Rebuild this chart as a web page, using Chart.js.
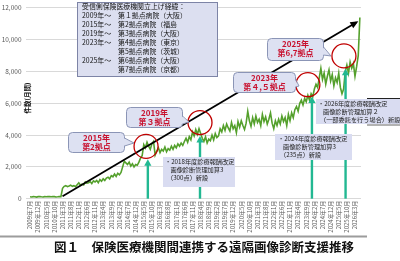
<!DOCTYPE html>
<html><head><meta charset="utf-8">
<script src="https://cdn.jsdelivr.net/npm/chart.js@4"></script>
<style>
html,body{margin:0;padding:0;background:#fff;}
#wrap{position:relative;width:400px;height:261px;overflow:hidden;font-family:"Noto Sans CJK JP",sans-serif;}
#c{position:absolute;left:0;top:0;}
#ov{position:absolute;left:0;top:0;pointer-events:none;}
</style></head><body>
<div id="wrap">
<canvas id="c" width="400" height="240"></canvas>
<svg id="ov" width="400" height="261" xmlns="http://www.w3.org/2000/svg" font-family="Noto Sans CJK JP, sans-serif"></svg>
</div>
<script>
// ---- data ----
const tickLabels = ["2009年7月","2009年12月","2010年5月","2010年10月","2011年3月","2011年8月","2012年1月","2012年6月","2012年11月","2013年4月","2013年9月","2014年2月","2014年7月","2014年12月","2015年5月","2015年10月","2016年3月","2016年8月","2017年1月","2017年6月","2017年11月","2018年4月","2018年9月","2019年2月","2019年7月","2019年12月","2020年5月","2020年10月","2021年3月","2021年8月","2022年1月","2022年6月","2022年11月","2023年4月","2023年9月","2024年2月","2024年7月","2024年12月","2025年5月","2025年10月","2026年3月"];
// monthly counts from 2009-07
const monthlyCases = [
 120,110,130,120,100,130,140,120,110,130,120,140,
 130,120,140,130,110,120,140,130,
 650,780,820,760,
 800,850,780,820,760,880,1000,850,920,870,1050,980,
 1000,1080,950,1120,1050,1150,1000,1200,1100,1250,1150,1300,
 1350,1250,1450,1380,1550,1400,1600,1500,1650,2000,2350,
 2250,2150,2300,2050,2200,2000,2150,2100,2300,2550,2700,
 3400,3200,3550,3300,3100,3450,3600,2750,3000,3200,2900,
 3100,3000,3250,2950,3150,3050,3300,3100,3350,3200,3450,3300,
 3500,3350,3600,3800,3550,3900,3700,4200,3950,4350,4050,4400,
 4100,3800,3600,3900,3500,3750,3650,4000,3700,4100,3850,3950,
 4400,4200,4600,4300,4700,4450,4250,4800,4400,4600,4150,4850,
 4500,4900,4600,4350,4750,5500,4900,4550,5100,4700,5200,4800,
 5000,4600,5300,4850,5150,4700,5000,5400,4750,4400,4900,4600,
 5000,4700,5200,4850,5100,4600,5300,4900,5400,5100,5600,5800,
 5500,6000,6200,5900,6300,6100,6500,6200,6600,6400,6900,7200,
 7000,7600,8200,7500,7900,7200,7700,8100,7400,7800,7100,7600,
 7300,7900,7000,6600,6900,8000,8400,7900,8600,8200,8500,7700,
 8300,9000,11400
];
// trend arrow (month index, value)
const trendIdx = [20, 201];
const trendVal = [150, 11100];
// milestone circles (month index, value)
const circleIdx = [71.4, 104.6, 171, 193.2];
const circleVal = [3290, 4790, 7170, 8980];
// revision arrows (month index, top value)
const revIdx = [72.5, 104.6, 173.5, 194.2];
const revTop = [2480, 3950, 6420, 8170];
const yTicks = [0,2000,4000,6000,8000,10000,12000];

const FONT = '"Noto Sans CJK JP", sans-serif';
const teal = '#22b892';

const overlayPlugin = {
  id:'overlay',
  afterDatasetsDraw(chart){
    const ctx = chart.ctx, xs = chart.scales.x, ys = chart.scales.y;
    ctx.save();
    // teal arrows
    ctx.strokeStyle = teal; ctx.fillStyle = teal; ctx.lineWidth = 2.4;
    revIdx.forEach((ix,k)=>{
      const px = xs.getPixelForValue(ix), top = ys.getPixelForValue(revTop[k]), bot = ys.getPixelForValue(0);
      ctx.beginPath(); ctx.moveTo(px,bot); ctx.lineTo(px,top+5); ctx.stroke();
      ctx.beginPath(); ctx.moveTo(px,top); ctx.lineTo(px-3.6,top+6.5); ctx.lineTo(px+3.6,top+6.5); ctx.closePath(); ctx.fill();
    });
    // trend arrowhead
    const x0 = xs.getPixelForValue(trendIdx[0]), y0 = ys.getPixelForValue(trendVal[0]);
    const x1 = xs.getPixelForValue(trendIdx[1]), y1 = ys.getPixelForValue(trendVal[1]);
    const a = Math.atan2(y1-y0, x1-x0);
    ctx.fillStyle = '#000';
    ctx.beginPath();
    ctx.moveTo(x1+2*Math.cos(a), y1+2*Math.sin(a));
    ctx.lineTo(x1-6*Math.cos(a)+3.5*Math.sin(a), y1-6*Math.sin(a)-3.5*Math.cos(a));
    ctx.lineTo(x1-6*Math.cos(a)-3.5*Math.sin(a), y1-6*Math.sin(a)+3.5*Math.cos(a));
    ctx.closePath(); ctx.fill();
    // red circles
    ctx.strokeStyle = '#c00000'; ctx.lineWidth = 1.3;
    circleIdx.forEach((ix,k)=>{
      ctx.beginPath();
      ctx.arc(xs.getPixelForValue(ix), ys.getPixelForValue(circleVal[k]), 12, 0, Math.PI*2);
      ctx.stroke();
    });
    ctx.restore();
  }
};

new Chart(document.getElementById('c'), {
  type:'line',
  data:{
    datasets:[
      { data: trendIdx.map((v,i)=>({x:v,y:trendVal[i]})), borderColor:'#000', borderWidth:1.8, pointRadius:0, order:0 },
      { data: monthlyCases.map((v,i)=>({x:i,y:v})), borderColor:'#54a02c', borderWidth:1.6, pointRadius:0, tension:0, order:1 }
    ]
  },
  options:{
    responsive:false, animation:false, devicePixelRatio:1,
    layout:{padding:{left:0,right:39,top:7,bottom:0}},
    plugins:{legend:{display:false}, tooltip:{enabled:false}},
    scales:{
      x:{ type:'linear', min:-2.8, max:203.7,
          grid:{display:false, drawTicks:false}, border:{display:false},
          afterBuildTicks(s){ s.ticks = tickLabels.map((_,i)=>({value:i*5})); },
          ticks:{ autoSkip:false, maxRotation:90, minRotation:90, padding:2, color:'#595959',
                  font:{size:6, family:FONT}, callback:(v,i)=>tickLabels[i] },
          afterFit(s){ s.height = 41.3; } },
      y:{ min:0, max:12000,
          afterBuildTicks(s){ s.ticks = yTicks.map(v=>({value:v})); },
          grid:{color:'#d9d9d9', drawTicks:false}, border:{display:false},
          ticks:{ padding:4, color:'#595959', font:{size:6.5, family:FONT},
                  callback:v=>v.toLocaleString('en-US') },
          afterFit(s){ s.width = 25.5; } }
    }
  },
  plugins:[overlayPlugin]
});

// ---- annotations (SVG, real text) ----
const NS='http://www.w3.org/2000/svg';
const svg=document.getElementById('ov');
function el(tag, attrs, text){ const e=document.createElementNS(NS,tag); for(const k in attrs) e.setAttribute(k,attrs[k]); if(text!==undefined) e.textContent=text; svg.appendChild(e); return e; }

// info box
el('rect',{x:77.5,y:2.5,width:140,height:74,fill:'#dcdff0',stroke:'#7d84a6','stroke-width':1});
const infoLeft=['受信側保険医療機関立上げ経緯：','2009年～','2015年～','2019年～','2023年～','','2025年～',''];
const infoRight=['','第１拠点病院（大阪）','第2拠点病院（福島','第3拠点病院（大阪）','第4拠点病院（東京）','第5拠点病院（茨城）','第6拠点病院（大阪）','第7拠点病院（京都）'];
infoLeft.forEach((t,i)=>{ const y=9.3+8.9*i; if(t) el('text',{x:82,y:y,'font-size':6.9,fill:'#111'},t); if(infoRight[i]) el('text',{x:118,y:y,'font-size':6.9,fill:'#111'},infoRight[i]); });

// callouts
function callout(x,y,w,h,b1,b2,tip,l1,l2){
  el('rect',{x:x+0.5,y:y+0.5,width:w,height:h,rx:4,fill:'#dde1f2',stroke:'#8b95b6','stroke-width':1});
  el('polygon',{points:`${x+w-0.5},${b1} ${tip[0]},${tip[1]} ${x+w-0.5},${b2}`,fill:'#dde1f2'});
  el('polyline',{points:`${x+w+0.5},${b1} ${tip[0]},${tip[1]} ${x+w+0.5},${b2}`,fill:'none',stroke:'#8b95b6','stroke-width':1});
  const cx=x+w/2+0.5;
  el('text',{x:cx,y:y+9,'font-size':8,'font-weight':'bold',fill:'#c8102e','text-anchor':'middle'},l1);
  el('text',{x:cx,y:y+18,'font-size':8,'font-weight':'bold',fill:'#c8102e','text-anchor':'middle'},l2);
}
callout(68,132,56,20,138,146,[134,143],'2015年','第2拠点');
callout(126,107,56,20,116,124,[189,122],'2019年','第３拠点');
callout(233,72,62,20,79,87,[299,86],'2023年','第４,５拠点');
callout(267,38,56,22,47,55,[331,56],'2025年','第6,7拠点');

// revision boxes
function rev(x,y,w,h,lines,xs){
  el('rect',{x:x,y:y,width:w,height:h,fill:'#d9dcf1'});
  lines.forEach((t,i)=>el('text',{x:xs[i],y:y+7.3+8*i,'font-size':6.2,fill:'#222'},t));
}
rev(163,157,72,30,['・2018年度診療報酬改定','画像診断管理加算3','（300点）新設'],[165,170.5,167]);
rev(275,134,77,26,['・2024年度診療報酬改定','画像診断管理加算3','（235点）新設'],[278,283,280]);
rev(316,99,84,25,['・2026年度診療報酬改定','画像診断管理加算２','（一部委託を行う場合）新設'],[318,323,320]);

// frame bits
el('line',{x1:367,y1:98.5,x2:400,y2:98.5,stroke:'#222','stroke-width':1});
el('line',{x1:367,y1:125,x2:400,y2:125,stroke:'#999','stroke-width':1.5});
el('rect',{x:0,y:235.5,width:367,height:2,fill:'#9c9c9c'});

// axis title
el('text',{x:0,y:0,'font-size':6.5,'font-weight':'bold',fill:'#111','text-anchor':'middle',transform:'translate(29.5,98) rotate(-90)'},'件数(月間)');
// figure title
el('text',{x:204,y:251.5,'font-size':12.5,'font-weight':'bold',fill:'#111','text-anchor':'middle'},'図１　保険医療機関間連携する遠隔画像診断支援推移');
</script>
</body></html>
